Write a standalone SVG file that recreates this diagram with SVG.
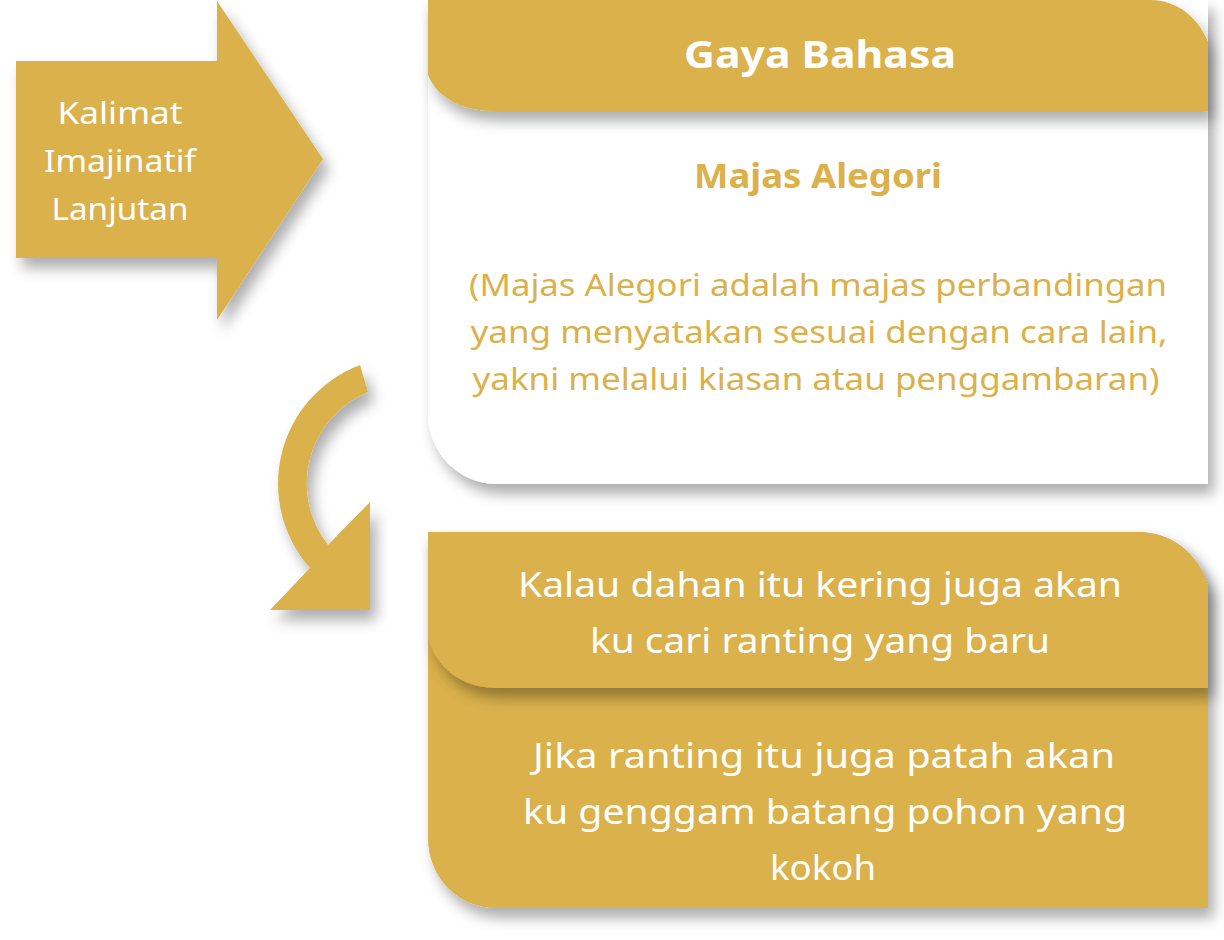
<svg xmlns="http://www.w3.org/2000/svg" width="1224" height="940" viewBox="0 0 1224 940">
<defs>
<filter id="sh" x="-10%" y="-10%" width="130%" height="140%">
<feDropShadow dx="6" dy="10" stdDeviation="7" flood-color="#000" flood-opacity="0.32"/>
</filter>
<style>
.gold{fill:#DAB14B}
.white{fill:#FFFFFF}
.t{font-family:"Noto Sans","Liberation Sans",sans-serif;text-anchor:middle}
.w{fill:#FFFFFF}
.g{fill:#DAB14B}
</style>
</defs>
<rect width="1224" height="940" fill="#FFFFFF"/>

<g id="connectors">
<path id="curved-arrow" class="gold" filter="url(#sh)" d="M360,365 A127,127 0 0 0 310,568 L270,610 L370,610 L370,502 L328,545 A99,99 0 0 1 368,392 Z"/>
</g>

<g id="node-kalimat">
<path class="gold" filter="url(#sh)" d="M16,61 H217 V1 L323,159 L217,320 V258 H16 Z"/>
<text class="t w" x="120" y="124" font-size="30" textLength="125" lengthAdjust="spacingAndGlyphs">Kalimat</text>
<text class="t w" x="120" y="172" font-size="30" textLength="152" lengthAdjust="spacingAndGlyphs">Imajinatif</text>
<text class="t w" x="120" y="220" font-size="30" textLength="137" lengthAdjust="spacingAndGlyphs">Lanjutan</text>
</g>

<g id="node-gaya-bahasa">
<path class="white" filter="url(#sh)" d="M428,0 H1208 V484 H497 C458,484 428,452 428,414 Z"/>
<path class="gold" filter="url(#sh)" d="M428,0 H1150 C1178,0 1198,18 1208,42 V111 H494 C460,111 436,96 428,75 Z"/>
<text class="t w" x="820" y="68" font-size="38" font-weight="bold" textLength="272" lengthAdjust="spacingAndGlyphs">Gaya Bahasa</text>
<text class="t g" x="818" y="188" font-size="34" font-weight="bold" textLength="248" lengthAdjust="spacingAndGlyphs">Majas Alegori</text>
<text class="t g" x="818" y="296" font-size="30" textLength="698" lengthAdjust="spacingAndGlyphs">(Majas Alegori adalah majas perbandingan</text>
<text class="t g" x="819" y="343" font-size="30" textLength="697" lengthAdjust="spacingAndGlyphs">yang menyatakan sesuai dengan cara lain,</text>
<text class="t g" x="816" y="390" font-size="30" textLength="687" lengthAdjust="spacingAndGlyphs">yakni melalui kiasan atau penggambaran)</text>
</g>

<g id="node-contoh">
<path class="gold" filter="url(#sh)" d="M428,532 H1138 C1170,532 1198,552 1208,586 V908 H497 C456,908 428,876 428,838 Z"/>
<path class="gold" filter="url(#sh)" d="M428,532 H1138 C1170,532 1198,552 1208,586 V688 H497 C462,688 436,668 428,637 Z"/>
<text class="t w" x="820" y="597" font-size="34" textLength="604" lengthAdjust="spacingAndGlyphs">Kalau dahan itu kering juga akan</text>
<text class="t w" x="820" y="653" font-size="34" textLength="460" lengthAdjust="spacingAndGlyphs">ku cari ranting yang baru</text>
<text class="t w" x="824" y="768" font-size="34" textLength="582" lengthAdjust="spacingAndGlyphs">Jika ranting itu juga patah akan</text>
<text class="t w" x="825" y="824" font-size="34" textLength="604" lengthAdjust="spacingAndGlyphs">ku genggam batang pohon yang</text>
<text class="t w" x="823" y="880" font-size="34" textLength="106" lengthAdjust="spacingAndGlyphs">kokoh</text>
</g>
</svg>
